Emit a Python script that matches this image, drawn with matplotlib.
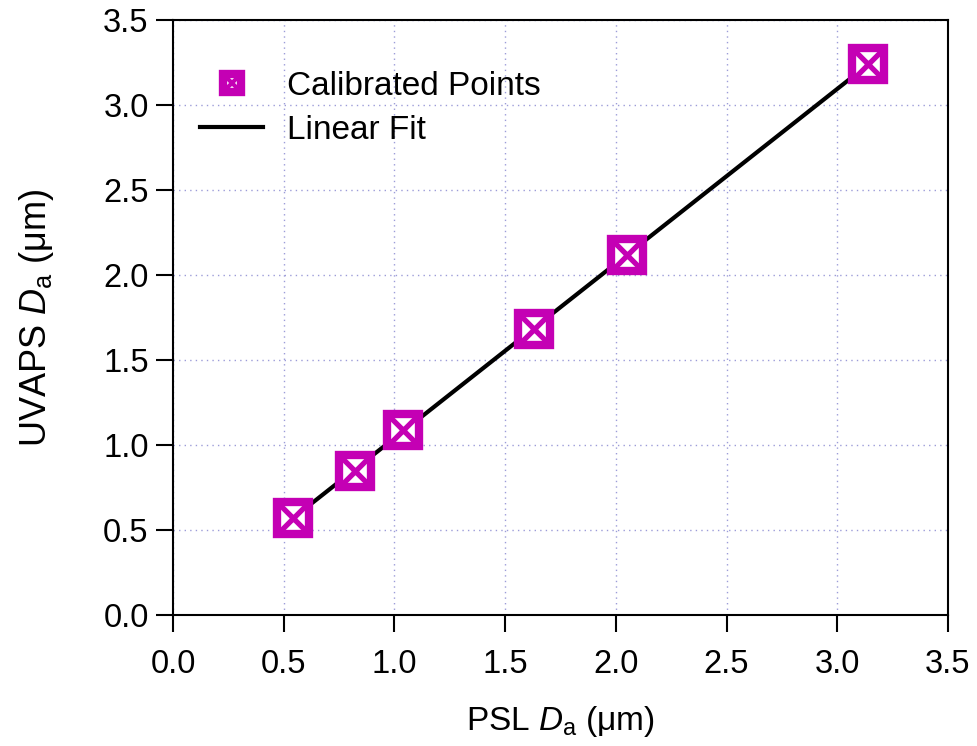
import numpy as np
import matplotlib
matplotlib.use("Agg")
import matplotlib.pyplot as plt
from matplotlib.lines import Line2D

plt.rcParams["font.family"] = ["Liberation Sans", "DejaVu Sans"]
plt.rcParams["mathtext.fontset"] = "custom"
plt.rcParams["mathtext.rm"] = "Liberation Sans"
plt.rcParams["mathtext.it"] = "Liberation Sans:italic"

# PSL aerodynamic diameter vs. UVAPS measured diameter (um)
psl_da = [0.54, 0.82, 1.04, 1.63, 2.05, 3.14]
uvaps_da = [0.57, 0.85, 1.09, 1.68, 2.12, 3.24]
ticks = [0.0, 0.5, 1.0, 1.5, 2.0, 2.5, 3.0, 3.5]

MAGENTA = "#C400B4"

slope, intercept = np.polyfit(psl_da, uvaps_da, 1)
x_fit = np.array([min(psl_da), max(psl_da)])
y_fit = slope * x_fit + intercept

fig = plt.figure(figsize=(9.78, 7.46), dpi=100)
ax = fig.add_axes([0.1769, 0.1756, 0.7924, 0.7976])

ax.plot(x_fit, y_fit, color="black", lw=3.0, zorder=2)
ax.plot(psl_da, uvaps_da, ls="none", marker="s", ms=23, mfc="white",
        mec=MAGENTA, mew=6, zorder=3)
ax.plot(psl_da, uvaps_da, ls="none", marker="x", ms=22, mec=MAGENTA,
        mew=3.8, zorder=4)

ax.set_xlim(0, 3.5)
ax.set_ylim(0, 3.5)
ax.set_xticks(ticks)
ax.set_yticks(ticks)
ax.set_xticklabels([f"{t:.1f}" for t in ticks])
ax.set_yticklabels([f"{t:.1f}" for t in ticks])
ax.tick_params(direction="out", length=12.5, width=1.5, labelsize=23.5, pad=5)
ax.tick_params(axis="x", pad=12)
for sp in ax.spines.values():
    sp.set_linewidth(1.5)
ax.grid(True, ls=(0, (1, 3)), color="#9C9CD8", lw=1.0)
ax.set_axisbelow(True)

ax.set_xlabel(r"PSL $\it{D}_{\rm a}$ ($\rm\mu$m)", fontsize=24, labelpad=17)
ax.set_ylabel(r"UVAPS $\it{D}_{\rm a}$ ($\rm\mu$m)", fontsize=26, labelpad=34)

pt_handle = (
    Line2D([], [], ls="none", marker="s", ms=13, mfc="white", mec=MAGENTA, mew=6),
    Line2D([], [], ls="none", marker="x", ms=12, mec=MAGENTA, mew=3),
)
fit_handle = Line2D([], [], color="black", lw=3.0)
ax.legend([pt_handle, fit_handle], ["Calibrated Points", "Linear Fit"],
          loc="upper left", bbox_to_anchor=(0.035, 0.915), frameon=False,
          borderpad=0, borderaxespad=0, fontsize=24,
          handlelength=1.9, handletextpad=0.72, labelspacing=0.4)

fig.savefig("out.png", dpi=100)
